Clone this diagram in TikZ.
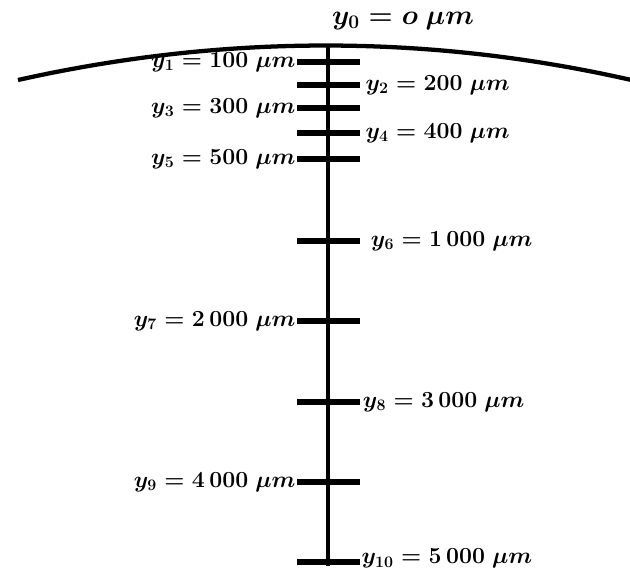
\documentclass[tikz,border=0pt]{standalone}
\usepackage{amsmath}
\begin{document}
\begin{tikzpicture}[x=0.75pt,y=-0.75pt,
  axisline/.style={line width=3.6pt},
  tickline/.style={line width=5pt},
  arcline/.style={line width=3.2pt},
  lbl/.style={inner sep=1pt,font=\fontsize{17.5}{20}\selectfont\boldmath},
  toplbl/.style={inner sep=1pt,font=\fontsize{19.5}{22}\selectfont\boldmath}]
\useasboundingbox (0,0) rectangle (630,572);
% surface arc
\coordinate (aL) at (18,80);
\coordinate (aR) at (640,82);
\draw[arcline] (aL) .. controls (224.7,33.7) and (433.3,33.7) .. (aR);
% axis
\coordinate (top) at (328,44);
\coordinate (bot) at (328,566);
\draw[axisline] (top) -- (bot);
\node[toplbl,anchor=south] (l0) at (403,31) {$y_0 = o\ \mu m$};
% ticks
\foreach \i/\yy in {1/62,2/85,3/108,4/133,5/159,6/241,7/321,8/402,9/482,10/562}{
  \coordinate (tL\i) at (297,\yy);
  \coordinate (tR\i) at (360,\yy);
  \draw[tickline] (tL\i) -- (tR\i);
}
\node[lbl,anchor=east] (l1) at (tL1) {$y_1 = 100\ \mu m$};
\node[lbl,anchor=west] (l2) at ([xshift=3pt]tR2) {$y_2 = 200\ \mu m$};
\node[lbl,anchor=east] (l3) at (tL3) {$y_3 = 300\ \mu m$};
\node[lbl,anchor=west] (l4) at ([xshift=3pt]tR4) {$y_4 = 400\ \mu m$};
\node[lbl,anchor=east] (l5) at (tL5) {$y_5 = 500\ \mu m$};
\node[lbl,anchor=west] (l6) at ([xshift=7pt]tR6) {$y_6 = 1\,000\ \mu m$};
\node[lbl,anchor=east] (l7) at (tL7) {$y_7 = 2\,000\ \mu m$};
\node[lbl,anchor=west] (l8) at ([xshift=1pt]tR8) {$y_8 = 3\,000\ \mu m$};
\node[lbl,anchor=east] (l9) at (tL9) {$y_9 = 4\,000\ \mu m$};
\node[lbl,anchor=west] (l10) at ([yshift=2.5pt]tR10) {$y_{10} = 5\,000\ \mu m$};
\end{tikzpicture}
\end{document}
